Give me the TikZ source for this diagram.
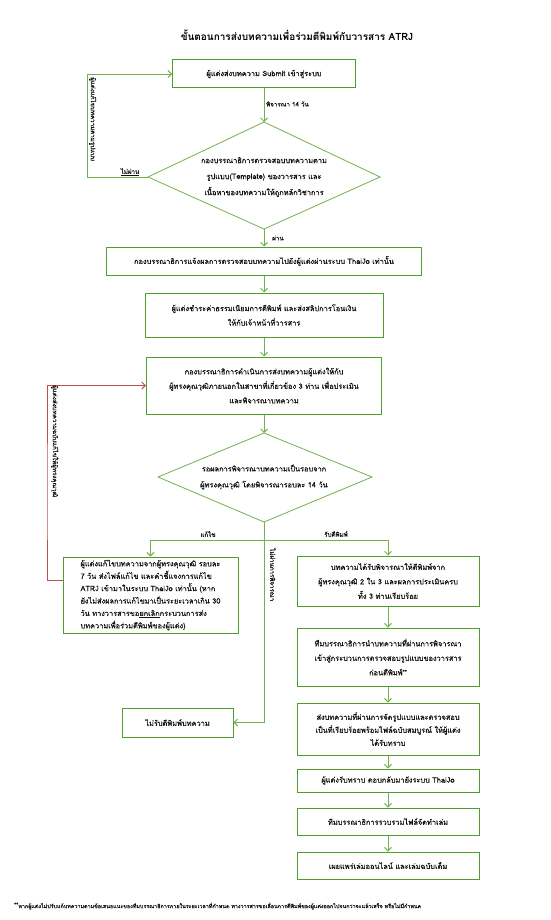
\documentclass[tikz,border=0pt]{standalone}
\usepackage{fontspec}
\setmainfont[Script=Thai]{Loma}
\newfontfamily\bodyf[Script=Thai,FakeBold=0.6]{Loma}
\usetikzlibrary{arrows.meta}
\definecolor{boxgreen}{HTML}{4F9D2D}
\definecolor{arrgreen}{HTML}{75B04E}
\definecolor{redline}{HTML}{C0504D}
\definecolor{txt}{HTML}{101010}
\begin{document}
\begin{tikzpicture}[x=1pt,y=-1pt,
  box/.style={draw=boxgreen, line width=1pt, align=center, inner sep=1pt,
    font=\bodyf\fontsize{7.4}{14.5}\selectfont, text=txt},
  dtext/.style={align=center, inner sep=0pt, font=\bodyf\fontsize{7.4}{16}\selectfont, text=txt},
  arr/.style={draw=arrgreen, line width=0.9pt, -{Straight Barb[length=3.5pt,width=7pt]}},
  plain/.style={draw=arrgreen, line width=0.9pt},
  dia/.style={draw=arrgreen, line width=0.8pt},
  redarr/.style={draw=redline, line width=0.9pt, -{Straight Barb[length=3.5pt,width=7pt]}},
  lbl/.style={font=\bodyf\fontsize{6.2}{7}\selectfont, text=txt, inner sep=0pt},
]
\useasboundingbox[fill=white] (0,0) rectangle (550,920);

% title
\node[font=\bfseries\fontsize{10}{12}\selectfont, text=black] (title) at (297,35)
  {ขั้นตอนการส่งบทความเพื่อร่วมตีพิมพ์กับวารสาร ATRJ};

% main column
\node[box, minimum width=183pt, minimum height=28pt] (b1) at (264,74)
  {ผู้แต่งส่งบทความ Submit เข้าสู่ระบบ};

\coordinate (d1t) at (264,122);
\coordinate (d1r) at (380,177);
\coordinate (d1b) at (264,229);
\coordinate (d1l) at (148,177);
\draw[dia] (d1t) -- (d1r) -- (d1b) -- (d1l) -- cycle;
\node[dtext] (d1) at (264,177)
  {กองบรรณาธิการตรวจสอบบทความตาม\\รูปแบบ(Template) ของวารสาร และ\\เนื้อหาของบทความให้ถูกหลักวิชาการ};

\node[box, minimum width=315pt, minimum height=28pt] (b2) at (264,261)
  {กองบรรณาธิการแจ้งผลการตรวจสอบบทความไปยังผู้แต่งผ่านระบบ ThaiJo เท่านั้น};

\node[box, minimum width=238pt, minimum height=44pt] (b3) at (264,315)
  {ผู้แต่งชำระค่าธรรมเนียมการตีพิมพ์ และส่งสลิปการโอนเงิน\\ให้กับเจ้าหน้าที่วารสาร};

\node[box, minimum width=235pt, minimum height=57pt] (b4) at (264,385.5)
  {กองบรรณาธิการดำเนินการส่งบทความผู้แต่งให้กับ\\ผู้ทรงคุณวุฒิภายนอกในสาขาที่เกี่ยวข้อง 3 ท่าน เพื่อประเมิน\\และพิจารณาบทความ};

\coordinate (d2t) at (264,433);
\coordinate (d2r) at (372,477);
\coordinate (d2b) at (264,522);
\coordinate (d2l) at (158,477);
\draw[dia] (d2t) -- (d2r) -- (d2b) -- (d2l) -- cycle;
\node[dtext] (d2) at (264,477)
  {รอผลการพิจารณาบทความเป็นรอบจาก\\ผู้ทรงคุณวุฒิ โดยพิจารณารอบละ 14 วัน};

% left branch
\node[box, minimum width=175pt, minimum height=76pt, align=left,
      font=\bodyf\fontsize{7.4}{12.4}\selectfont] (b5) at (150.5,595)
  {ผู้แต่งแก้ไขบทความจากผู้ทรงคุณวุฒิ รอบละ\\7 วัน ส่งไฟล์แก้ไข และคำชี้แจงการแก้ไข\\ATRJ เข้ามาในระบบ ThaiJo เท่านั้น (หาก\\ยังไม่ส่งผลการแก้ไขมาเป็นระยะเวลาเกิน 30\\วัน ทางวารสารขอ\underline{ยกเลิก}กระบวนการส่ง\\บทความเพื่อร่วมตีพิมพ์ของผู้แต่ง)};

\node[box, minimum width=111pt, minimum height=29pt] (rej) at (177.5,722.5)
  {ไม่รับตีพิมพ์บทความ};

% right branch
\node[box, minimum width=182pt, minimum height=50pt] (b6) at (388,581)
  {บทความได้รับพิจารณาให้ตีพิมพ์จาก\\ผู้ทรงคุณวุฒิ 2 ใน 3 และผลการประเมินครบ\\ทั้ง 3 ท่านเรียบร้อย};
\node[box, minimum width=182pt, minimum height=58pt] (b7) at (388,657)
  {ทีมบรรณาธิการนำบทความที่ผ่านการพิจารณา\\เข้าสู่กระบวนการตรวจสอบรูปแบบของวารสาร\\ก่อนตีพิมพ์\raisebox{1.5pt}{\fontsize{5.5}{6}\selectfont **}};
\node[box, minimum width=182pt, minimum height=52pt, font=\bodyf\fontsize{7.4}{13}\selectfont] (b8) at (388,729)
  {ส่งบทความที่ผ่านการจัดรูปแบบและตรวจสอบ\\เป็นที่เรียบร้อยพร้อมไฟล์ฉบับสมบูรณ์ ให้ผู้แต่ง\\ได้รับทราบ};
\node[box, minimum width=182pt, minimum height=23pt] (b9) at (388,780.5)
  {ผู้แต่งรับทราบ ตอบกลับมายังระบบ ThaiJo};
\node[box, minimum width=182pt, minimum height=27pt] (b10) at (388,821.5)
  {ทีมบรรณาธิการรวบรวมไฟล์จัดทำเล่ม};
\node[box, minimum width=182pt, minimum height=27pt] (b11) at (388,865.5)
  {เผยแพร่เล่มออนไลน์ และเล่มฉบับเต็ม};

% connectors
\draw[arr] (b1.south) -- (d1t);
\draw[arr] (d1b) -- (b2.north);
\draw[arr] (b2.south) -- (b3.north);
\draw[arr] (b3.south) -- (b4.north);
\draw[arr] (b4.south) -- (d2t);

\coordinate (lx) at (87,177);
\draw[arr] (d1l) -- (lx) |- (b1.west);

\coordinate (br) at (264,540);
\draw[plain] (d2b) -- (br);
\draw[arr] (br) -| (b5.north);
\draw[arr] (br) -| (b6.north);
\draw[arr] (d2b) |- (rej.east);

\coordinate (rx) at (47,500);
\draw[redarr] ([yshift=15pt]b5.west) -| (rx) |- (b4.west);

\draw[arr] (b6.south) -- (b7.north);
\draw[arr] (b7.south) -- (b8.north);
\draw[arr] (b8.south) -- (b9.north);
\draw[arr] (b9.south) -- (b10.north);
\draw[arr] (b10.south) -- (b11.north);

% labels
\node[lbl, anchor=west] (l14) at (266,104) {พิจารณา 14 วัน};
\node[lbl] (lno) at (130,172) {\underline{ไม่ผ่าน}};
\node[lbl] (lyes) at (278,238) {ผ่าน};
\node[lbl] (lfix) at (208,534) {แก้ไข};
\node[lbl] (lacc) at (336,534) {รับตีพิมพ์};

\node[lbl, rotate=-90, anchor=south west] (v1) at (89,77) {ผู้แต่งแก้ไขบทความตามรูปแบบ};
\node[lbl, rotate=-90, anchor=south west] (v2) at (51,385) {ผู้แต่งส่งบทความฉบับแก้ไขให้ผู้ทรงคุณวุฒิ};
\node[lbl, rotate=-90, anchor=south west] (v3) at (270,548) {ไม่ผ่านการพิจารณา};

% footnote
\node[anchor=west, inner sep=0pt, font=\bodyf\fontsize{5.4}{6}\selectfont, text=txt] (fn) at (14,906)
  {\raisebox{1.5pt}{**}หากผู้แต่งไม่ปรับแก้บทความตามข้อเสนอแนะของทีมบรรณาธิการภายในระยะเวลาที่กำหนด ทางวารสารขอเลื่อนการตีพิมพ์ของผู้แต่งออกไปจนกว่าจะแล้วเสร็จ หรือไม่มีกำหนด};
\end{tikzpicture}
\end{document}
